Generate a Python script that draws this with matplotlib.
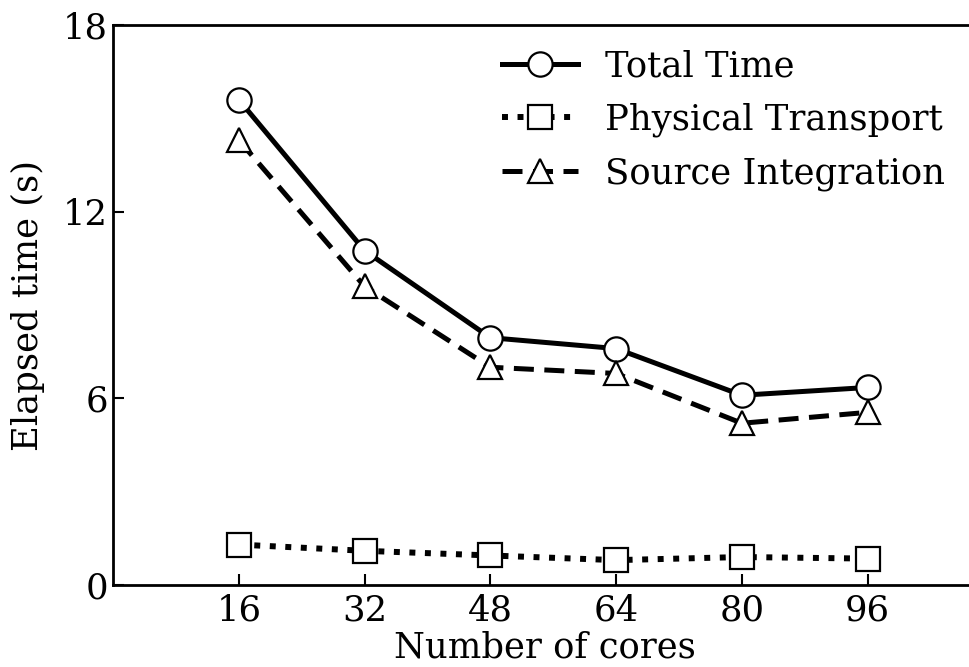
import matplotlib
matplotlib.use("Agg")
import matplotlib.pyplot as plt

cores = [16, 32, 48, 64, 80, 96]
total_time = [15.6, 10.75, 7.95, 7.6, 6.1, 6.35]
physical_transport = [1.3, 1.1, 0.95, 0.8, 0.9, 0.85]
source_integration = [14.3, 9.6, 7.0, 6.8, 5.2, 5.55]
yticks = [0, 6, 12, 18]

plt.rcParams["font.family"] = "DejaVu Serif"
plt.rcParams["font.size"] = 25.5

fig = plt.figure(figsize=(9.69, 6.67), dpi=100)
ax = fig.add_axes([0.1166, 0.1229, 0.8924, 0.8396])

common = dict(color="black", markerfacecolor="white",
              markeredgecolor="black", markeredgewidth=1.6, ms=17.5)
ax.plot(cores, total_time, marker="o", linestyle="-", lw=3.6,
        label="Total Time", **common)
ax.plot(cores, physical_transport, marker="s", linestyle=(0, (1.0, 1.6)), lw=4.3,
        label="Physical Transport", **common)
ax.plot(cores, source_integration, marker="^", linestyle=(0, (4.0, 2.1)), lw=3.6,
        label="Source Integration", **common)

ax.set_xlim(0, 110)
ax.set_ylim(0, 18)
ax.set_xticks(cores)
ax.set_yticks(yticks)
ax.tick_params(direction="in", length=8, width=1.5, top=False, right=False)
ax.tick_params(axis="x", pad=6)
for s in ax.spines.values():
    s.set_linewidth(2)

ax.set_xlabel("Number of cores", labelpad=2)
ax.set_ylabel("Elapsed time (s)", labelpad=13)

ax.legend(loc="upper right", bbox_to_anchor=(0.999, 1.013), frameon=False,
          handlelength=2.15, handletextpad=0.76, labelspacing=0.54)

fig.savefig("out.png", dpi=100)
